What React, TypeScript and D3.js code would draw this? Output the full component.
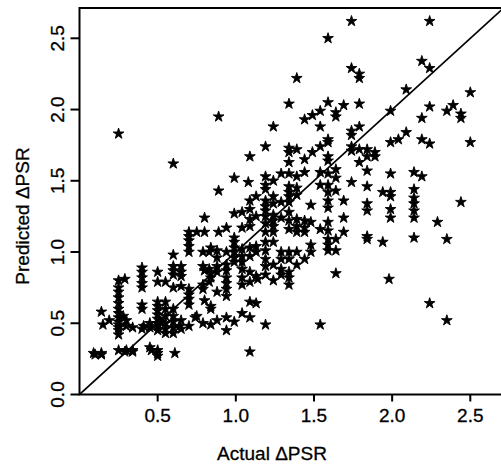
import * as d3 from "d3";

const width = 501;
const height = 466;
const margin = { top: 8, right: 0, bottom: 71.5, left: 79.5 };

const xTicks = [0.5, 1.0, 1.5, 2.0, 2.5];
const yTicks = [0.0, 0.5, 1.0, 1.5, 2.0, 2.5];
const xLabel = "Actual \u0394PSR";
const yLabel = "Predicted \u0394PSR";

// actual ΔPSR, predicted ΔPSR
const lowPoints: [number, number][] = [
  [0.09, 0.29], [0.1, 0.28], [0.14, 0.29], [0.14, 0.28], [0.14, 0.58], [0.15, 0.49], [0.19, 0.52],
  [0.25, 0.8], [0.25, 0.75], [0.25, 0.72], [0.25, 0.68], [0.25, 0.64], [0.25, 0.6], [0.25, 0.57],
  [0.25, 0.54], [0.25, 0.51], [0.25, 0.49], [0.25, 0.47], [0.25, 0.45], [0.25, 0.42], [0.25, 0.31],
  [0.29, 0.81], [0.28, 0.55], [0.3, 0.52], [0.3, 0.48], [0.34, 0.47], [0.3, 0.31], [0.29, 0.3],
  [0.34, 0.31], [0.34, 0.3],
  [0.4, 0.89], [0.4, 0.86], [0.4, 0.82], [0.4, 0.78], [0.4, 0.75], [0.4, 0.63], [0.4, 0.6],
  [0.4, 0.46], [0.41, 0.48], [0.45, 0.33], [0.46, 0.31], [0.5, 0.31], [0.5, 0.29], [0.5, 0.27],
  [0.45, 0.5], [0.45, 0.47],
  [0.5, 0.86], [0.5, 0.79], [0.5, 0.65], [0.5, 0.62], [0.5, 0.59], [0.5, 0.56], [0.5, 0.53],
  [0.5, 0.5], [0.5, 0.48], [0.5, 0.45], [0.52, 0.51],
  [0.55, 0.79], [0.55, 0.65], [0.55, 0.6], [0.55, 0.55], [0.55, 0.5], [0.55, 0.46], [0.55, 0.43],
  [0.6, 0.98], [0.6, 0.9], [0.6, 0.87], [0.6, 0.84], [0.6, 0.75], [0.6, 0.6], [0.6, 0.55],
  [0.6, 0.51], [0.6, 0.47], [0.6, 0.43], [0.61, 0.29],
  [0.65, 0.9], [0.65, 0.86], [0.65, 0.83], [0.65, 0.76], [0.65, 0.52], [0.64, 0.48], [0.65, 0.46],
  [0.7, 1.14], [0.7, 1.11], [0.7, 1.08], [0.7, 1.04], [0.7, 1.0], [0.7, 0.74], [0.7, 0.7],
  [0.7, 0.67], [0.7, 0.63], [0.7, 0.48], [0.74, 0.54], [0.75, 0.55], [0.75, 1.14],
  [0.25, 1.83], [0.6, 1.62],
];

const midPoints: [number, number][] = [
  [0.8, 1.24], [0.8, 1.14], [0.79, 1.0], [0.79, 0.9], [0.8, 0.87], [0.79, 0.77], [0.79, 0.74],
  [0.8, 0.66], [0.79, 0.5],
  [0.84, 1.03], [0.83, 1.0], [0.83, 0.88], [0.84, 0.85], [0.84, 0.82], [0.83, 0.79], [0.84, 0.62],
  [0.84, 0.6], [0.84, 0.49],
  [0.88, 1.01], [0.88, 0.96], [0.88, 0.9], [0.88, 0.86], [0.88, 0.72], [0.88, 0.52],
  [0.89, 1.95], [0.89, 1.43], [0.89, 1.14],
  [0.94, 1.17], [0.94, 1.0], [0.94, 0.91], [0.94, 0.87], [0.94, 0.82], [0.94, 0.78], [0.94, 0.74],
  [0.94, 0.69], [0.94, 0.54], [0.94, 0.45],
  [0.99, 1.52], [0.99, 1.27], [0.99, 1.1], [0.99, 1.07], [0.99, 1.03], [0.99, 1.0], [0.99, 0.96],
  [0.99, 0.93], [0.99, 0.51],
  [1.04, 1.28], [1.04, 1.17], [1.04, 1.02], [1.04, 0.97], [1.04, 0.93], [1.04, 0.88], [1.04, 0.82],
  [1.04, 0.77], [1.04, 0.57],
  [1.09, 1.67], [1.08, 1.49], [1.09, 1.36], [1.09, 1.3], [1.09, 1.23], [1.09, 1.18], [1.09, 1.03],
  [1.09, 0.97], [1.09, 0.86], [1.09, 0.79], [1.09, 0.65], [1.09, 0.54], [1.09, 0.3],
  [1.13, 1.39], [1.13, 1.25], [1.13, 1.04], [1.13, 1.0], [1.13, 0.83], [1.13, 0.64], [1.14, 0.81],
  [1.19, 1.74], [1.19, 1.53], [1.19, 1.47], [1.19, 1.44], [1.19, 1.36], [1.19, 1.32], [1.19, 1.29],
  [1.19, 1.25], [1.19, 1.2], [1.19, 1.14], [1.19, 1.07], [1.19, 1.01], [1.19, 0.95], [1.19, 0.9],
  [1.19, 0.84], [1.19, 0.49],
  [1.24, 1.88], [1.24, 1.5], [1.24, 1.39], [1.24, 1.34], [1.24, 1.26], [1.24, 1.22], [1.24, 1.18],
  [1.24, 1.14], [1.24, 1.07], [1.24, 0.91], [1.24, 0.8],
  [1.29, 1.55], [1.29, 1.35], [1.29, 1.24], [1.29, 1.0], [1.29, 0.95], [1.29, 0.88], [1.29, 0.84],
  [1.34, 2.04], [1.34, 1.73], [1.34, 1.7], [1.34, 1.63], [1.34, 1.55], [1.34, 1.46], [1.34, 1.42],
  [1.34, 1.39], [1.34, 1.35], [1.34, 1.28], [1.34, 1.22], [1.34, 1.16], [1.34, 1.0], [1.34, 0.95],
  [1.34, 0.86], [1.34, 0.82], [1.34, 0.77],
  [1.39, 2.22], [1.39, 1.72], [1.39, 1.53], [1.39, 1.45], [1.39, 1.4], [1.39, 1.23], [1.39, 1.18],
  [1.39, 1.14], [1.39, 1.0], [1.39, 0.91],
  [1.44, 1.93], [1.44, 1.65], [1.44, 1.56], [1.44, 1.22], [1.44, 1.17], [1.44, 1.14], [1.44, 0.95],
  [1.49, 1.96], [1.49, 1.7], [1.48, 1.33], [1.48, 1.21], [1.48, 1.05], [1.48, 1.0],
];

const highPoints: [number, number][] = [
  [1.54, 1.99], [1.54, 1.88], [1.54, 1.74], [1.54, 1.56], [1.54, 1.47], [1.54, 1.16], [1.54, 0.49],
  [1.59, 2.5], [1.59, 2.05], [1.59, 1.79], [1.59, 1.77], [1.59, 1.67], [1.59, 1.64], [1.59, 1.55],
  [1.59, 1.47], [1.59, 1.42], [1.59, 1.36], [1.59, 1.31], [1.59, 1.21], [1.59, 1.15], [1.59, 1.09],
  [1.59, 1.05], [1.59, 1.01],
  [1.64, 1.98], [1.64, 1.95], [1.64, 1.58], [1.64, 1.52], [1.64, 1.43], [1.64, 1.09], [1.64, 1.01],
  [1.64, 0.85],
  [1.69, 2.03], [1.69, 1.36], [1.69, 1.24], [1.69, 1.14],
  [1.74, 2.62], [1.74, 2.29], [1.74, 1.85], [1.74, 1.82], [1.74, 1.74], [1.74, 1.71], [1.74, 1.49],
  [1.79, 2.25], [1.79, 2.22], [1.79, 2.04], [1.79, 1.88], [1.79, 1.72], [1.79, 1.63],
  [1.84, 1.72], [1.84, 1.67], [1.84, 1.57], [1.84, 1.46], [1.84, 1.34], [1.84, 1.29], [1.84, 1.11],
  [1.84, 1.09], [1.89, 1.7], [1.89, 1.67], [1.94, 1.42], [1.94, 1.07],
  [1.99, 1.99], [1.99, 1.77], [1.99, 1.55], [1.99, 1.42], [1.99, 1.39], [1.99, 1.3], [1.99, 1.24],
  [1.98, 0.81], [2.04, 1.79], [2.09, 1.84], [2.09, 2.14],
  [2.14, 1.56], [2.14, 1.44], [2.14, 1.38], [2.14, 1.34], [2.14, 1.29], [2.14, 1.24], [2.14, 1.1],
  [2.19, 2.34], [2.19, 1.94], [2.19, 1.79], [2.19, 1.53],
  [2.24, 2.62], [2.24, 2.29], [2.24, 2.02], [2.24, 1.76], [2.24, 0.64],
  [2.29, 1.21], [2.35, 1.99], [2.35, 1.09], [2.35, 0.52],
  [2.39, 2.03], [2.44, 1.97], [2.44, 1.94], [2.44, 1.35], [2.5, 2.12], [2.5, 1.77],
];

const points = [...lowPoints, ...midPoints, ...highPoints];

const font = "'Liberation Sans', Arial, Helvetica, sans-serif";

const App = () => {
  const x0 = margin.left;
  const x1 = width + 2;
  const y0 = height - margin.bottom;
  const y1 = margin.top;

  const xScale = d3.scaleLinear().domain([0, 2.5]).range([79.5, 470.3]);
  const yScale = d3.scaleLinear().domain([0, 2.5]).range([y0, 38.3]);
  const xMax = xScale.invert(x1);
  const yMax = yScale.invert(y1);
  const diagEnd = Math.min(xMax, yMax);

  const star = d3.symbol(d3.symbolStar, 36)();
  const fmt = d3.format(".1f");

  return (
    <svg
      width={width}
      height={height}
      style={{ position: "absolute", left: 0, top: 0, background: "#fff" }}
      fontFamily={font}
    >
      <defs>
        <clipPath id="plot">
          <rect x={x0} y={y1} width={x1 - x0} height={y0 - y1} />
        </clipPath>
      </defs>
      <g clipPath="url(#plot)">
        <line
          x1={xScale(0)}
          y1={yScale(0)}
          x2={xScale(diagEnd)}
          y2={yScale(diagEnd)}
          stroke="#000"
          strokeWidth={1.7}
        />
        {points.map((d, i) => (
          <path
            key={i}
            d={star}
            transform={`translate(${xScale(d[0])},${yScale(d[1])})`}
            fill="#000"
            stroke="#000"
            strokeWidth={0.9}
            strokeLinejoin="round"
          />
        ))}
      </g>
      <rect
        x={x0}
        y={y1}
        width={x1 - x0}
        height={y0 - y1}
        fill="none"
        stroke="#000"
        strokeWidth={2}
      />
      {xTicks.map((t) => (
        <g key={t} transform={`translate(${xScale(t)},${y0})`}>
          <line y1={0} y2={7} stroke="#000" strokeWidth={2} />
          <text y={27} textAnchor="middle" fontSize={19} fill="#000" stroke="#000" strokeWidth={0.3}>
            {fmt(t)}
          </text>
        </g>
      ))}
      {yTicks.map((t) => (
        <g key={t} transform={`translate(${x0},${yScale(t)})`}>
          <line x1={0} x2={-9} stroke="#000" strokeWidth={2} />
          <text
            transform="translate(-16,0) rotate(-90)"
            textAnchor="middle"
            fontSize={19}
            fill="#000"
            stroke="#000"
            strokeWidth={0.3}
          >
            {fmt(t)}
          </text>
        </g>
      ))}
      <text x={272} y={460} textAnchor="middle" fontSize={19} fill="#000" stroke="#000" strokeWidth={0.3}>
        {xLabel}
      </text>
      <text
        transform={`translate(29,216) rotate(-90)`}
        textAnchor="middle"
        fontSize={19}
        fill="#000"
        stroke="#000"
        strokeWidth={0.3}
      >
        {yLabel}
      </text>
    </svg>
  );
};

export default App;
